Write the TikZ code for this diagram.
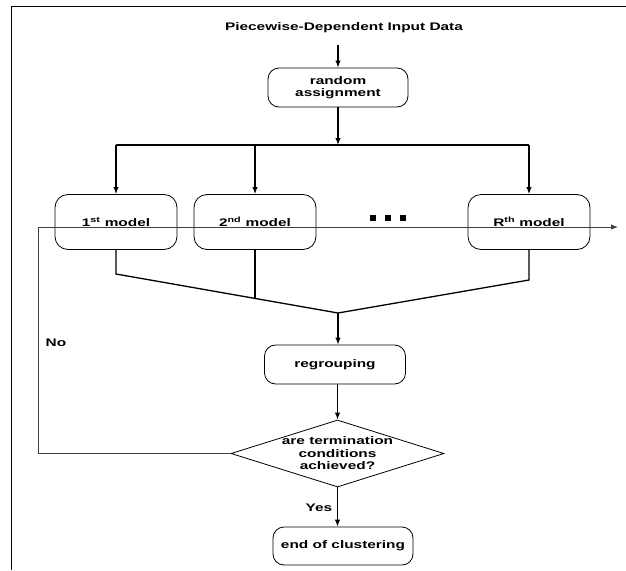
\documentclass[tikz,border=0pt]{standalone}
\usepackage{fontspec}
\setmainfont{Liberation Sans}[FakeStretch=1.4]
\usetikzlibrary{shapes.geometric,arrows.meta}

\begin{document}
\begin{tikzpicture}[x=1pt, y=-1pt, >={Latex[length=7pt,width=5.5pt]},
    every node/.style={font=\fontsize{11}{12.5}\selectfont\bfseries},
    box/.style={draw, rounded corners=11pt, line width=0.8pt, minimum width=140pt, minimum height=39pt, inner sep=0pt, align=center},
    mbox/.style={box, rounded corners=13pt, minimum width=122pt, minimum height=55pt},
    cond/.style={draw, diamond, line width=0.8pt, minimum width=213pt, minimum height=67pt, inner sep=0pt},
    conn/.style={line width=1.3pt},
    back/.style={line width=0.8pt, draw=black!75}]
    \useasboundingbox (0,0) rectangle (626,570);
    \draw [line width=1pt] (11,570) -- (11,6) -- (626,6);
    \node (t) at (344,28) {Piecewise-Dependent Input Data};
    \coordinate (s) at (338,45);
    \node [box] (a) at (338,87.5) {random\\assignment};
    \coordinate (b0) at (338,145);
    \node [mbox] (m1) at (116,222) {1\textsuperscript{st} model};
    \node [mbox] (m2) at (255,222) {2\textsuperscript{nd} model};
    \node [mbox] (mr) at (529,222) {R\textsuperscript{th} model};
    \node (d) at (388,218) {\rule{6pt}{6pt}\hspace{9pt}\rule{6pt}{6pt}\hspace{9pt}\rule{6pt}{6pt}};
    \coordinate (k1) at (116,274);
    \coordinate (k2) at (255,298.4);
    \coordinate (kr) at (529,280);
    \coordinate (j) at (338,313);
    \node [box, minimum width=141pt] (g) at (335,364.5) {regrouping};
    \node [cond] (c) at (337.5,453.5) {};
    \node [align=center] (ct) at (c) {are termination\\conditions\\achieved?};
    \node [box, minimum height=38pt] (e) at (343,546) {end of clustering};
    \node (no) at (56,343) {No};
    \node (yes) at (319,508) {Yes};
    \coordinate (f) at (38,227);
    \coordinate (o) at (618,227);
    \draw [conn, ->] (s) -- (a);
    \draw [conn, ->] (a) -- (b0);
    \draw [conn] (m1 |- b0) -- (mr |- b0);
    \foreach \m in {m1,m2,mr}
        \draw [conn, ->] (\m |- b0) -- (\m);
    \draw [conn] (m1) -- (k1) -- (j) -- (kr) -- (mr);
    \draw [conn] (m2) -- (k2);
    \draw [conn, ->] (j) -- (j |- g.north);
    \draw [conn, ->] (g.south -| c) -- (c);
    \draw [conn, ->] (c) -- (c |- e.north);
    \draw [back, ->] (c) -| (f) -- (o);
\end{tikzpicture}
\end{document}
